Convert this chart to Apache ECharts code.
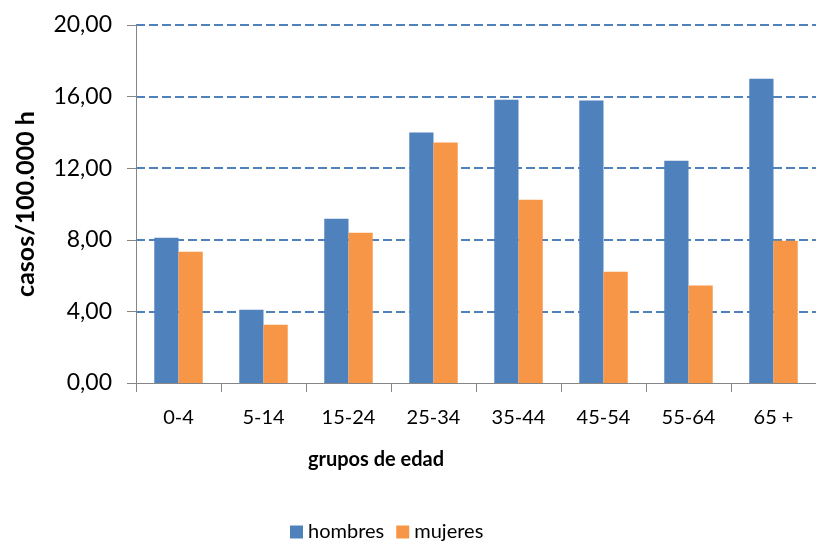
<!DOCTYPE html>
<html>
<head>
<meta charset="utf-8">
<script src="https://cdn.jsdelivr.net/npm/echarts@6/dist/echarts.min.js"></script>
<style>
  html, body { margin: 0; padding: 0; background: #fff; }
  #chart { width: 816px; height: 543px; }
</style>
</head>
<body>
<div id="chart"></div>
<script>
const grupos = ['0-4', '5-14', '15-24', '25-34', '35-44', '45-54', '55-64', '65 +']
const hombres = [8.12, 4.09, 9.18, 13.99, 15.83, 15.78, 12.42, 17.0]
const mujeres = [7.33, 3.26, 8.40, 13.43, 10.24, 6.22, 5.44, 7.95]
const yTicks = [0, 4, 8, 12, 16, 20]

const font = 'Lato, "Open Sans", sans-serif'
const chart = echarts.init(document.getElementById('chart'))
chart.setOption({
  animation: false,
  textStyle: {fontFamily: font},
  grid: {left: 136, top: 25, right: -8, bottom: 160},
  legend: {
    top: 517,
    left: 285,
    itemWidth: 13,
    itemHeight: 13,
    itemGap: 12,
    icon: 'rect',
    textStyle: {fontSize: 20, color: '#000', fontFamily: font},
    data: ['hombres', 'mujeres']
  },
  graphic: [{
    type: 'text',
    x: 376,
    y: 460,
    style: {
      text: 'grupos de edad',
      align: 'center',
      verticalAlign: 'middle',
      font: 'bold 20px ' + font,
      fill: '#000'
    }
  }],
  xAxis: {
    type: 'category',
    data: grupos,
    axisLine: {lineStyle: {color: '#868686', width: 1}},
    axisTick: {show: true, alignWithLabel: false, length: 9, lineStyle: {color: '#868686'}},
    axisLabel: {fontSize: 20, color: '#000', margin: 25}
  },
  yAxis: {
    type: 'value',
    min: yTicks[0],
    max: yTicks[yTicks.length - 1],
    interval: 4,
    name: 'casos/100.000 h',
    nameLocation: 'middle',
    nameGap: 98,
    nameTextStyle: {fontSize: 25, fontWeight: 'bold', color: '#000'},
    axisLine: {show: true, lineStyle: {color: '#868686', width: 1}},
    axisTick: {show: true, length: 9, lineStyle: {color: '#868686'}},
    axisLabel: {
      fontSize: 23,
      color: '#000',
      margin: 24,
      formatter: v => v.toFixed(2).replace('.', ',')
    },
    splitLine: {
      show: true,
      showMinLine: false,
      lineStyle: {color: '#4f81bd', width: 2, type: [9, 4]}
    }
  },
  series: [
    {
      name: 'hombres',
      type: 'bar',
      data: hombres,
      barGap: '0%',
      barCategoryGap: '43%',
      itemStyle: {color: '#4f81bd'}
    },
    {
      name: 'mujeres',
      type: 'bar',
      data: mujeres,
      itemStyle: {color: '#f79646'}
    }
  ]
})
</script>
</body>
</html>
